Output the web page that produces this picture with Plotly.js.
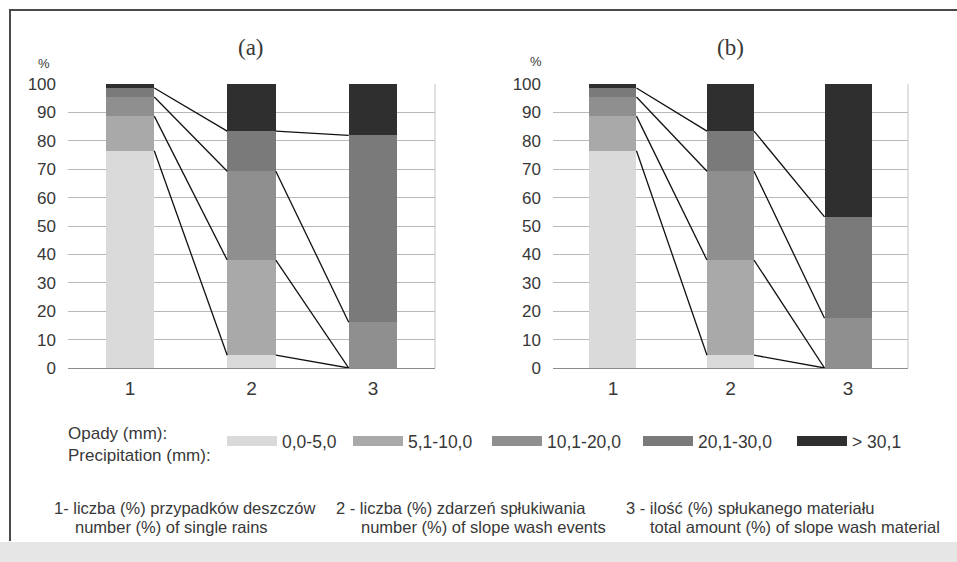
<!DOCTYPE html>
<html>
<head>
<meta charset="utf-8">
<script src="https://cdn.plot.ly/plotly-3.0.1.min.js"></script>
<style>
html,body{margin:0;padding:0;background:#ffffff;}
#chart{width:957px;height:562px;}
</style>
</head>
<body>
<div id="chart"></div>
<script>
// ---- data ----
const categories = [1, 2, 3];
const categoryLabels = ['1', '2', '3'];
const seriesNames = ['0,0-5,0', '5,1-10,0', '10,1-20,0', '20,1-30,0', '> 30,1'];

// panel (a)
const a_0_5   = [76.5, 4.5, 0];
const a_5_10  = [12.2, 33.5, 0];
const a_10_20 = [6.7, 31.3, 16.1];
const a_20_30 = [3.2, 14.1, 65.8];
const a_30    = [1.4, 16.6, 18.1];

// panel (b)
const b_0_5   = [76.5, 4.5, 0];
const b_5_10  = [12.2, 33.5, 0];
const b_10_20 = [6.7, 31.3, 17.5];
const b_20_30 = [3.2, 14.1, 35.7];
const b_30    = [1.4, 16.6, 46.8];

const yTicks = [0, 10, 20, 30, 40, 50, 60, 70, 80, 90, 100];

// ---- style ----
const colors = ['#dadada', '#a9a9a9', '#8f8f8f', '#7a7a7a', '#2f2f2f'];
const sans = "'Liberation Sans', Arial, sans-serif";
const serif = "'Liberation Serif', 'Times New Roman', serif";
const textCol = '#383838';
const barW = 0.4;
const W = 957, H = 562;
const px = v => v / W;
const py = v => 1 - v / H;

const panels = [
  {series: [a_0_5, a_5_10, a_10_20, a_20_30, a_30], xa: 'x', ya: 'y'},
  {series: [b_0_5, b_5_10, b_10_20, b_20_30, b_30], xa: 'x2', ya: 'y2'}
];

const traces = [];
panels.forEach(p => {
  p.series.forEach((vals, k) => {
    traces.push({
      type: 'bar', x: categories, y: vals, width: barW,
      name: seriesNames[k], showlegend: false,
      marker: {color: colors[k], line: {width: 0}},
      xaxis: p.xa, yaxis: p.ya, hoverinfo: 'skip'
    });
  });
  // connector lines between stacked boundaries
  const cum = [];
  categories.forEach((c, i) => {
    let s = 0; const col = [];
    p.series.forEach(vals => { s += vals[i]; col.push(s); });
    cum.push(col);
  });
  const lx = [], ly = [];
  for (let k = 0; k < p.series.length - 1; k++) {
    for (let i = 0; i < categories.length - 1; i++) {
      lx.push(categories[i] + barW / 2, categories[i + 1] - barW / 2, null);
      ly.push(cum[i][k], cum[i + 1][k], null);
    }
  }
  traces.push({
    type: 'scatter', mode: 'lines', x: lx, y: ly, showlegend: false,
    line: {color: '#111111', width: 1.3}, xaxis: p.xa, yaxis: p.ya, hoverinfo: 'skip'
  });
});

// legend entries, one small legend per entry
const legendIds = ['legend', 'legend2', 'legend3', 'legend4', 'legend5'];
const legendX = [227, 353, 492, 643, 797];
seriesNames.forEach((n, k) => {
  traces.push({
    type: 'scatter', mode: 'lines', x: [null], y: [null], name: n,
    legend: legendIds[k], showlegend: true,
    line: {color: colors[k], width: 14}, xaxis: 'x', yaxis: 'y', hoverinfo: 'skip'
  });
});

function xAxis(dom) {
  return {
    domain: dom, range: [0.49, 3.51], tickvals: categories, ticktext: categoryLabels,
    showgrid: false, zeroline: false, showline: true, linecolor: '#8c8c8c', linewidth: 1,
    ticks: '', ticklabelstandoff: 3,
    tickfont: {family: sans, size: 19, color: textCol}, fixedrange: true
  };
}
function yAxis(anchor) {
  return {
    domain: [py(368), py(84)], range: [0, 100], tickvals: yTicks, anchor: anchor,
    showgrid: true, gridcolor: '#b8b8b8', gridwidth: 1, zeroline: false, showline: false,
    ticks: '', ticklabelstandoff: 11,
    tickfont: {family: sans, size: 17, color: textCol}, fixedrange: true
  };
}

function note(text, x, y, size) {
  return {text: text, xref: 'paper', yref: 'paper', x: px(x), y: py(y),
          xanchor: 'left', yanchor: 'middle', align: 'left', showarrow: false,
          font: {family: sans, size: size, color: textCol}};
}

const layout = {
  width: W, height: H,
  margin: {l: 0, r: 0, t: 0, b: 0},
  paper_bgcolor: '#ffffff', plot_bgcolor: 'rgba(0,0,0,0)',
  barmode: 'stack', bargap: 0,
  showlegend: true,
  xaxis: Object.assign(xAxis([px(68), px(435)]), {anchor: 'y'}),
  yaxis: yAxis('x'),
  xaxis2: Object.assign(xAxis([px(553), px(908)]), {anchor: 'y2'}),
  yaxis2: yAxis('x2'),
  annotations: [
    {text: '(a)', xref: 'x domain', yref: 'paper', x: 0.5, y: py(48), showarrow: false,
     font: {family: serif, size: 23, color: textCol}, xanchor: 'center', yanchor: 'middle'},
    {text: '(b)', xref: 'x2 domain', yref: 'paper', x: 0.5, y: py(48), showarrow: false,
     font: {family: serif, size: 23, color: textCol}, xanchor: 'center', yanchor: 'middle'},
    {text: '%', xref: 'paper', yref: 'paper', x: px(44), y: py(63), showarrow: false,
     xanchor: 'center', yanchor: 'middle', font: {family: sans, size: 13, color: textCol}},
    {text: '%', xref: 'paper', yref: 'paper', x: px(536), y: py(62), showarrow: false,
     xanchor: 'center', yanchor: 'middle', font: {family: sans, size: 13, color: textCol}},
    note('Opady (mm):<br>Precipitation (mm):', 66, 444, 17),
    note('1- liczba (%) przypadków deszczów', 52, 508, 16.5),
    note('number (%) of single rains', 73, 527, 16.5),
    note('2 - liczba (%) zdarzeń spłukiwania', 334, 508, 16.5),
    note('number (%) of slope wash events', 359, 527, 16.5),
    note('3 - ilość (%) spłukanego materiału', 624, 508, 16.5),
    note('total amount (%) of slope wash material', 648, 527, 16.5)
  ],
  shapes: [
    {type: 'line', xref: 'x domain', yref: 'y domain', x0: 1, x1: 1, y0: 0, y1: 1,
     line: {color: '#c4c4c4', width: 1}},
    {type: 'line', xref: 'x2 domain', yref: 'y2 domain', x0: 1, x1: 1, y0: 0, y1: 1,
     line: {color: '#c4c4c4', width: 1}},
    {type: 'line', xref: 'paper', yref: 'paper', x0: px(9), x1: 1, y0: py(10), y1: py(10),
     line: {color: '#4a4a4a', width: 2}},
    {type: 'line', xref: 'paper', yref: 'paper', x0: px(10), x1: px(10), y0: py(9), y1: py(541),
     line: {color: '#4a4a4a', width: 2}},
    {type: 'rect', xref: 'paper', yref: 'paper', x0: 0, x1: 1, y0: 0, y1: py(542),
     fillcolor: '#e6e6e6', line: {width: 0}, layer: 'below'}
  ]
};

legendIds.forEach((id, k) => {
  layout[id] = {
    x: px(legendX[k] - 5), xanchor: 'left', y: py(441), yanchor: 'middle',
    orientation: 'h', bgcolor: 'rgba(0,0,0,0)', itemwidth: 50,
    font: {family: sans, size: 17.5, color: textCol}
  };
});

Plotly.newPlot('chart', traces, layout, {displayModeBar: false, staticPlot: true});
</script>
</body>
</html>
